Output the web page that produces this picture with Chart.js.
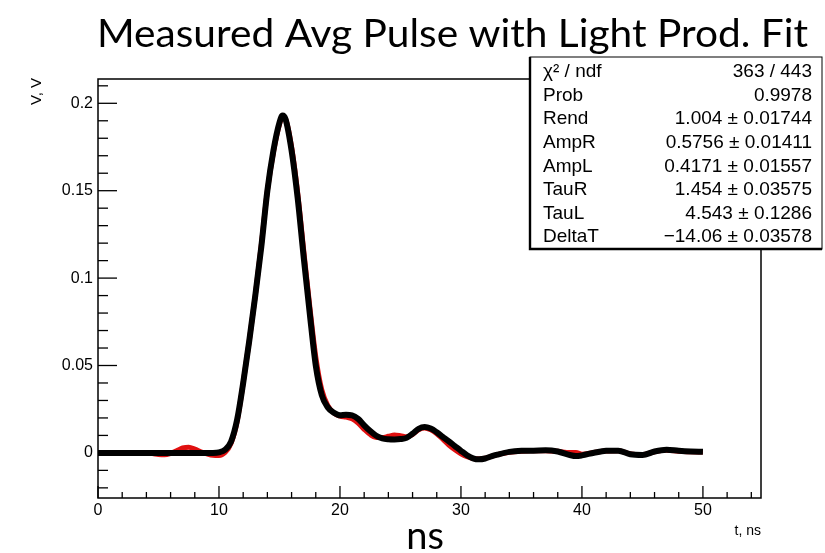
<!DOCTYPE html>
<html>
<head>
<meta charset="utf-8">
<title>Measured Avg Pulse</title>
<script src="https://cdn.jsdelivr.net/npm/chart.js@4.4.0/dist/chart.umd.min.js"></script>
<style>
  body { margin: 0; background: #fff; }
  #pulso { display: block; }
</style>
</head>
<body>
<canvas id="pulso" width="825" height="553"></canvas>
<script>
//datos
var tNs =
[
  0, 1, 2, 3, 4, 4.5, 5, 5.5, 6, 6.5,
  7, 7.5, 8, 8.5, 9, 9.5, 10, 10.5, 11, 11.5,
  12, 12.5, 13, 13.5, 14, 14.5, 15, 15.25, 15.5, 16,
  16.5, 17, 17.5, 18, 18.5, 19, 19.5, 20, 20.5, 21,
  21.5, 22, 22.5, 23, 23.5, 24, 24.5, 25, 25.5, 26,
  26.5, 27, 27.5, 28, 28.5, 29, 29.5, 30, 30.5, 31,
  31.5, 32, 32.5, 33, 34, 35, 36, 37, 38, 39,
  39.5, 40, 41, 42, 43, 44, 45, 46, 47, 48,
  49, 50
];

//pulso medido (negro)
var medidoV =
[
  0, 0, 0, 0, 0, 0, 0, 0, 0, 0,
  0, 0, 0, 0, 0, 0, 0.0003, 0.0018, 0.0065, 0.019,
  0.040, 0.064, 0.090, 0.118, 0.150, 0.173, 0.189, 0.193, 0.191, 0.173,
  0.146, 0.112, 0.080, 0.050, 0.033, 0.026, 0.023, 0.0215, 0.0218, 0.0215,
  0.0195, 0.0158, 0.0125, 0.0098, 0.0083, 0.0078, 0.0077, 0.0079, 0.0086, 0.011,
  0.0138, 0.0148, 0.0139, 0.0118, 0.0092, 0.0066, 0.0039, 0.0012, -0.0013, -0.0031,
  -0.0037, -0.0032, -0.002, -0.001, 0.0006, 0.0012, 0.0013, 0.0015, 0.0008, -0.0012,
  -0.0018, -0.0014, 0.0001, 0.0012, 0.0013, -0.0008, -0.0012, 0.0008, 0.0018, 0.0012,
  0.0008, 0.0006
];

//ajuste light prod. (rojo)
var ajusteV =
[
  0, 0, 0, 0, 0, -0.0003, -0.0009, -0.0011, -0.0003, 0.0012,
  0.0028, 0.0033, 0.0022, 0.0006, -0.0006, -0.0014, -0.0015, 0.0002, 0.0055, 0.018,
  0.040, 0.064, 0.090, 0.119, 0.150, 0.172, 0.188, 0.192, 0.191, 0.175,
  0.149, 0.116, 0.084, 0.055, 0.036, 0.027, 0.0228, 0.021, 0.0205, 0.0195,
  0.017, 0.0135, 0.0105, 0.0088, 0.0088, 0.0095, 0.0102, 0.0098, 0.0092, 0.0105,
  0.0132, 0.0142, 0.0132, 0.011, 0.0078, 0.0045, 0.0018, -0.0005, -0.0022, -0.0032,
  -0.0035, -0.003, -0.002, -0.001, 0.0004, 0.001, 0.0012, 0.0013, 0.0009, 0.0002,
  0.0003, -0.0008, 0.0002, 0.0011, 0.0012, -0.0006, -0.001, 0.0007, 0.0015, 0.001,
  0.0007, 0.0005
];

//ticks
var xTicks = [ 0, 10, 20, 30, 40, 50 ];
var xMenores = [ 2, 4, 6, 8, 12, 14, 16, 18, 22, 24, 26, 28, 32, 34, 36, 38, 42, 44, 46, 48, 52, 54 ];
var yTicks = [ 0, 0.05, 0.1, 0.15, 0.2 ];
var yEtiquetas = [ '0', '0.05', '0.1', '0.15', '0.2' ];
var yMenores = [ -0.02, -0.01, 0.01, 0.02, 0.03, 0.04, 0.06, 0.07, 0.08, 0.09, 0.11, 0.12, 0.13, 0.14, 0.16, 0.17, 0.18, 0.19, 0.21 ];

//caja de estadisticas
var statNombres = [ 'χ² / ndf', 'Prob', 'Rend', 'AmpR', 'AmpL', 'TauR', 'TauL', 'DeltaT' ];
var statValores = [ '363 / 443', '0.9978', '1.004 ± 0.01744', '0.5756 ± 0.01411', '0.4171 ± 0.01557', '1.454 ± 0.03575', '4.543 ± 0.1286', '−14.06 ± 0.03578' ];

var titulo = 'Measured Avg Pulse with Light Prod. Fit';

function puntos( valores )
{
  return tNs.map( ( t, i ) => ( { x: t, y: valores[ i ] } ) );
}

//dibujo de marco, ticks, textos y caja
var marco =
{
  id: 'marco',
  afterDraw: function( chart )
  {
    var ctx = chart.ctx;
    var a = chart.chartArea;
    var sx = chart.scales.x;
    var sy = chart.scales.y;

    ctx.save( );
    ctx.strokeStyle = '#000';
    ctx.fillStyle = '#000';
    ctx.lineWidth = 1.3;

    yTicks.forEach( v =>
    {
      let py = sy.getPixelForValue( v );
      ctx.beginPath( ); ctx.moveTo( a.left, py ); ctx.lineTo( a.left + 19, py ); ctx.stroke( );
    });
    yMenores.forEach( v =>
    {
      let py = sy.getPixelForValue( v );
      ctx.beginPath( ); ctx.moveTo( a.left, py ); ctx.lineTo( a.left + 10, py ); ctx.stroke( );
    });
    xTicks.forEach( v =>
    {
      let px = sx.getPixelForValue( v );
      ctx.beginPath( ); ctx.moveTo( px, a.bottom ); ctx.lineTo( px, a.bottom - 12 ); ctx.stroke( );
    });
    xMenores.forEach( v =>
    {
      let px = sx.getPixelForValue( v );
      ctx.beginPath( ); ctx.moveTo( px, a.bottom ); ctx.lineTo( px, a.bottom - 6 ); ctx.stroke( );
    });

    ctx.lineWidth = 1.5;
    ctx.strokeRect( a.left, a.top, a.right - a.left, a.bottom - a.top );

    //caja
    var bx = 530, by = 57, bw = 292, bh = 192;
    ctx.fillStyle = '#fff';
    ctx.fillRect( bx, by, bw, bh );
    ctx.lineWidth = 1;
    ctx.strokeRect( bx, by, bw, bh );
    ctx.lineWidth = 2.4;
    ctx.beginPath( );
    ctx.moveTo( bx, by ); ctx.lineTo( bx, by + bh ); ctx.lineTo( bx + bw, by + bh );
    ctx.stroke( );

    ctx.fillStyle = '#000';
    ctx.font = '19px "Liberation Sans", Arial, sans-serif';
    ctx.textBaseline = 'middle';
    statNombres.forEach( ( n, i ) =>
    {
      let yy = 72 + i * 23.6;
      ctx.textAlign = 'left';
      ctx.fillText( n, 543, yy );
      ctx.textAlign = 'right';
      ctx.fillText( statValores[ i ], 812, yy );
    });

    //titulo
    ctx.font = '38px Lato, "Open Sans", sans-serif';
    ctx.textBaseline = 'alphabetic';
    ctx.textAlign = 'center';
    var w = ctx.measureText( titulo ).width;
    ctx.save( );
    ctx.translate( 452.5, 47 );
    ctx.scale( 711 / w, 1 );
    ctx.fillText( titulo, 0, 0 );
    ctx.restore( );

    //ns
    ctx.font = '38px Lato, "Open Sans", sans-serif';
    ctx.fillText( 'ns', 425, 549 );

    //t, ns
    ctx.font = '14px "Liberation Sans", Arial, sans-serif';
    ctx.textAlign = 'right';
    ctx.fillText( 't, ns', a.right, 535 );

    //V, V
    ctx.save( );
    ctx.translate( 41, a.top - 1 );
    ctx.rotate( -Math.PI / 2 );
    ctx.textAlign = 'right';
    ctx.font = '15px "Liberation Sans", Arial, sans-serif';
    ctx.fillText( 'V, V', 0, 0 );
    ctx.restore( );

    ctx.restore( );
  }
};

var grafica = new Chart( document.getElementById( 'pulso' ),
{
  type: 'line',
  data:
  {
    datasets:
    [
      {
        label: 'medido',
        data: puntos( medidoV ),
        borderColor: '#000',
        borderWidth: 6,
        pointRadius: 0,
        cubicInterpolationMode: 'monotone',
        fill: false,
      },
      {
        label: 'ajuste',
        data: puntos( ajusteV ),
        borderColor: '#e01010',
        borderWidth: 5,
        pointRadius: 0,
        cubicInterpolationMode: 'monotone',
        fill: false,
      }
    ]
  },
  options:
  {
    responsive: false,
    animation: false,
    devicePixelRatio: 1,
    layout: { padding: { top: 79, right: 64, left: 0, bottom: 0 } },
    plugins:
    {
      legend: { display: false },
      tooltip: { enabled: false },
      title: { display: false },
    },
    scales:
    {
      x:
      {
        type: 'linear',
        min: 0,
        max: 54.8,
        grid: { display: false, drawTicks: false },
        border: { display: false },
        afterBuildTicks: s => { s.ticks = xTicks.map( v => ( { value: v } ) ); },
        afterFit: s => { s.height = 55; },
        ticks:
        {
          padding: 3,
          maxRotation: 0,
          autoSkip: false,
          color: '#000',
          font: { family: '"Liberation Sans", Arial, sans-serif', size: 16 },
        }
      },
      y:
      {
        type: 'linear',
        min: -0.0258,
        max: 0.2139,
        grid: { display: false, drawTicks: false },
        border: { display: false },
        afterBuildTicks: s => { s.ticks = yTicks.map( v => ( { value: v } ) ); },
        afterFit: s => { s.width = 98; },
        ticks:
        {
          padding: 5,
          autoSkip: false,
          color: '#000',
          font: { family: '"Liberation Sans", Arial, sans-serif', size: 16 },
          callback: ( v, i ) => yEtiquetas[ i ],
        }
      }
    }
  },
  plugins: [ marco ]
});
</script>
</body>
</html>
